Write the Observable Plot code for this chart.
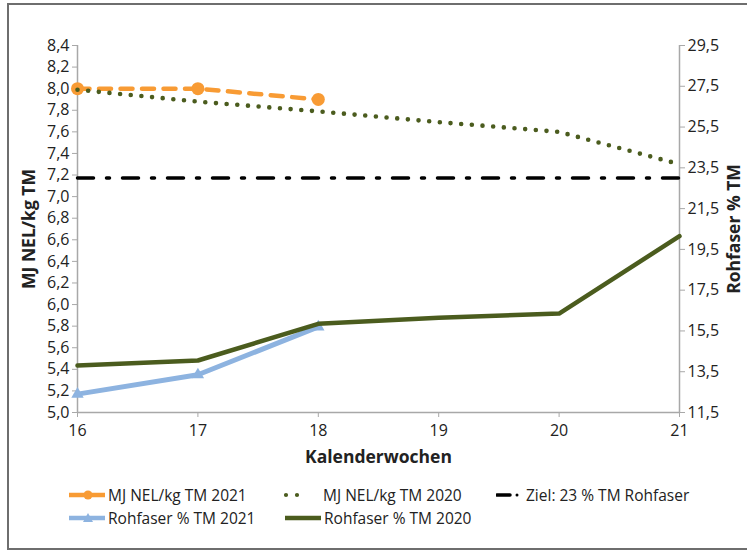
<!DOCTYPE html>
<html>
<head>
<meta charset="utf-8">
<script src="https://cdn.jsdelivr.net/npm/d3@7"></script>
<script src="https://cdn.jsdelivr.net/npm/@observablehq/plot@0.6"></script>
<style>
  html, body { margin: 0; padding: 0; background: #fff; }
  body { width: 747px; height: 554px; position: relative; overflow: hidden; font-family: "Open Sans", sans-serif; }
  #frame { position: absolute; left: 7px; top: 3px; width: 760px; height: 547px; border: 2px solid #6e6e6e; box-sizing: border-box; }
  #chart { position: absolute; left: 0; top: 0; }
  #chart g[aria-label$="axis label"] { font-weight: bold; font-size: 17.5px; }
  #legend { position: absolute; left: 0; top: 0; width: 747px; height: 554px; pointer-events: none; }
  .item { position: absolute; display: flex; align-items: center; font-size: 15.5px; color: #222; white-space: nowrap; }
  .item svg { display: block; margin-right: 2px; }
</style>
</head>
<body>
<div id="frame"></div>
<div id="chart"></div>
<div id="legend"></div>
<script>
// ---- data ----
const weeks = [16, 17, 18, 19, 20, 21];
const nel2021Weeks = [16, 17, 18];
const nel2021 = [8.0, 8.0, 7.9];
const nel2020 = [7.99, 7.88, 7.79, 7.69, 7.6, 7.3];
const rf2021Weeks = [16, 17, 18];
const rf2021 = [12.4, 13.35, 15.7];
const rf2020 = [13.8, 14.05, 15.85, 16.15, 16.35, 20.15];
const zielValue = 23;
const leftTicks = [5.0, 5.2, 5.4, 5.6, 5.8, 6.0, 6.2, 6.4, 6.6, 6.8, 7.0, 7.2, 7.4, 7.6, 7.8, 8.0, 8.2, 8.4];
const rightTicks = [11.5, 13.5, 15.5, 17.5, 19.5, 21.5, 23.5, 25.5, 27.5, 29.5];
const leftDomain = [5.0, 8.4];
const rightDomain = [11.5, 29.5];
const labels = {
  nel2021: "MJ NEL/kg TM 2021",
  nel2020: "MJ NEL/kg TM 2020",
  ziel: "Ziel: 23 % TM Rohfaser",
  rf2021: "Rohfaser % TM 2021",
  rf2020: "Rohfaser % TM 2020"
};
const colors = { orange: "#f89b34", green: "#4b5c1e", blue: "#8db3e0", black: "#000" };

// right-axis values mapped onto the left (primary) scale
const toLeft = v => leftDomain[0] + (v - rightDomain[0]) * (leftDomain[1] - leftDomain[0]) / (rightDomain[1] - rightDomain[0]);
const fromLeft = v => rightDomain[0] + (v - leftDomain[0]) * (rightDomain[1] - rightDomain[0]) / (leftDomain[1] - leftDomain[0]);
const comma = v => v.toFixed(1).replace(".", ",");

const dNel2021 = nel2021Weeks.map((w, i) => ({ w, v: nel2021[i] }));
const dNel2020 = weeks.map((w, i) => ({ w, v: nel2020[i] }));
const dRf2021 = rf2021Weeks.map((w, i) => ({ w, v: toLeft(rf2021[i]) }));
const dRf2020 = weeks.map((w, i) => ({ w, v: toLeft(rf2020[i]) }));
const dZiel = [weeks[0], weeks[weeks.length - 1]].map(w => ({ w, v: toLeft(zielValue) }));

const axisGray = "#a8a8a8";

const chart = Plot.plot({
  width: 747,
  height: 470,
  marginLeft: 77,
  marginRight: 68,
  marginTop: 45,
  marginBottom: 58,
  style: { fontFamily: "Open Sans", fontSize: "16px", color: "#222", background: "transparent", overflow: "visible" },
  x: { domain: [weeks[0], weeks[weeks.length - 1]] },
  y: { domain: leftDomain },
  marks: [
    Plot.axisY({ anchor: "left", ticks: leftTicks, tickSize: 5, tickPadding: 3, tickFormat: comma, stroke: axisGray, fill: "#222",
      label: "MJ NEL/kg TM", labelAnchor: "center", labelArrow: false, labelOffset: 55 }),
    Plot.axisY({ anchor: "right", ticks: rightTicks.map(toLeft), tickSize: 5, tickPadding: 3, tickFormat: d => comma(fromLeft(d)), stroke: axisGray, fill: "#222",
      label: "Rohfaser % TM", labelAnchor: "center", labelArrow: false, labelOffset: 60 }),
    Plot.axisX({ ticks: weeks, tickSize: 5, tickPadding: 7, tickFormat: d => String(d), stroke: axisGray, fill: "#222",
      label: "Kalenderwochen", labelAnchor: "center", labelArrow: false, labelOffset: 50 }),
    Plot.ruleX([weeks[0], weeks[weeks.length - 1]], { stroke: axisGray, strokeWidth: 1.5 }),
    Plot.ruleY([leftDomain[0]], { stroke: axisGray, strokeWidth: 1.5 }),
    // MJ NEL 2021
    Plot.line(dNel2021, { x: "w", y: "v", stroke: colors.orange, strokeWidth: 4.5, strokeDasharray: "12 9.5", strokeLinecap: "round" }),
    Plot.dot(dNel2021, { x: "w", y: "v", r: 6.5, fill: colors.orange }),
    // MJ NEL 2020
    Plot.line(dNel2020, { x: "w", y: "v", stroke: colors.green, strokeWidth: 4.6, strokeDasharray: "0 10.7", strokeLinecap: "round" }),
    // Ziel
    Plot.line(dZiel, { x: "w", y: "v", stroke: colors.black, strokeWidth: 3.5, strokeDasharray: "16 13 3 13" }),
    // Rohfaser 2021
    Plot.line(dRf2021, { x: "w", y: "v", stroke: colors.blue, strokeWidth: 5 }),
    Plot.dot(dRf2021, { x: "w", y: "v", r: 4.6, symbol: "triangle", fill: colors.blue }),
    // Rohfaser 2020
    Plot.line(dRf2020, { x: "w", y: "v", stroke: colors.green, strokeWidth: 4.5 })
  ]
});
document.getElementById("chart").appendChild(chart);

// ---- legend (HTML) ----
function swatch(kind) {
  const ns = "http://www.w3.org/2000/svg";
  const s = document.createElementNS(ns, "svg");
  s.setAttribute("width", kind === "ziel" ? 24 : (kind === "nel2020" ? 34 : 38));
  s.setAttribute("height", 14);
  const line = (x1, x2, attrs) => {
    const l = document.createElementNS(ns, "line");
    l.setAttribute("x1", x1); l.setAttribute("x2", x2); l.setAttribute("y1", 7); l.setAttribute("y2", 7);
    for (const k in attrs) l.setAttribute(k, attrs[k]);
    s.appendChild(l);
  };
  if (kind === "nel2021") {
    line(1, 37, { stroke: colors.orange, "stroke-width": 4.5 });
    const c = document.createElementNS(ns, "circle");
    c.setAttribute("cx", 20); c.setAttribute("cy", 7); c.setAttribute("r", 4.5); c.setAttribute("fill", colors.orange);
    s.appendChild(c);
  } else if (kind === "nel2020") {
    line(4, 26, { stroke: colors.green, "stroke-width": 4.2, "stroke-dasharray": "0 11", "stroke-linecap": "round" });
  } else if (kind === "ziel") {
    line(1, 14, { stroke: "#000", "stroke-width": 3.5, "stroke-linecap": "round" });
    line(21, 21, { stroke: "#000", "stroke-width": 3, "stroke-linecap": "round" });
  } else if (kind === "rf2021") {
    line(1, 37, { stroke: colors.blue, "stroke-width": 4.5 });
    const p = document.createElementNS(ns, "path");
    p.setAttribute("d", "M20,2 L25,11 L15,11 Z"); p.setAttribute("fill", colors.blue);
    s.appendChild(p);
  } else if (kind === "rf2020") {
    line(1, 37, { stroke: colors.green, "stroke-width": 4.5 });
  }
  return s;
}
const legendItems = [
  { key: "nel2021", left: 68, top: 484 },
  { key: "nel2020", left: 282, top: 484 },
  { key: "ziel", left: 496, top: 484 },
  { key: "rf2021", left: 68, top: 507 },
  { key: "rf2020", left: 284, top: 507 }
];
const legend = document.getElementById("legend");
for (const it of legendItems) {
  const div = document.createElement("div");
  div.className = "item";
  div.style.left = it.left + "px";
  div.style.top = it.top + "px";
  div.appendChild(swatch(it.key));
  const span = document.createElement("span");
  span.textContent = labels[it.key];
  if (it.key === "nel2020") span.style.marginLeft = "5px";
  if (it.key === "ziel") span.style.marginLeft = "4px";
  div.appendChild(span);
  legend.appendChild(div);
}
</script>
</body>
</html>
